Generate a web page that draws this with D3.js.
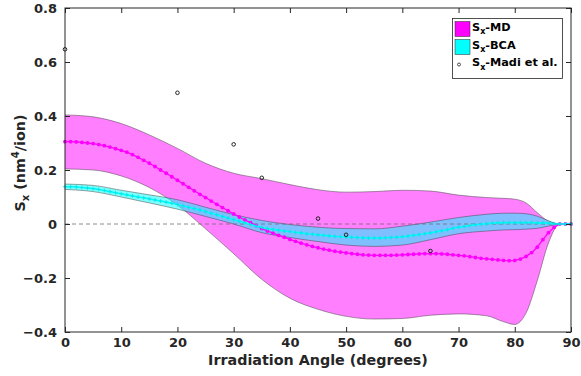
<!DOCTYPE html>
<html><head><meta charset="utf-8">
<script src="https://cdn.jsdelivr.net/npm/d3@7"></script>
<style>body{margin:0;background:#fff;}svg{display:block;font-family:"DejaVu Sans",sans-serif;font-weight:bold;}</style>
</head><body><svg id="c" width="581" height="376"></svg>
<script>
// Mean curves sampled at every degree 0..90
const angles = d3.range(0, 91);
const mdMean = [0.305,0.305,0.304,0.302,0.300,0.298,0.294,0.290,0.285,0.279,0.273,0.266,0.257,0.247,0.236,0.225,0.213,0.200,0.188,0.175,0.162,0.149,0.136,0.123,0.110,0.098,0.085,0.073,0.061,0.049,0.037,0.026,0.015,0.005,-0.006,-0.017,-0.026,-0.034,-0.042,-0.049,-0.057,-0.064,-0.071,-0.077,-0.083,-0.088,-0.093,-0.097,-0.101,-0.104,-0.107,-0.110,-0.112,-0.114,-0.115,-0.116,-0.116,-0.116,-0.116,-0.115,-0.114,-0.113,-0.112,-0.111,-0.110,-0.110,-0.110,-0.111,-0.112,-0.114,-0.116,-0.118,-0.121,-0.124,-0.127,-0.129,-0.131,-0.133,-0.135,-0.136,-0.135,-0.130,-0.120,-0.106,-0.086,-0.058,-0.032,-0.012,0,0,0];
const bcaMean = [0.138,0.138,0.137,0.135,0.133,0.131,0.128,0.124,0.120,0.116,0.112,0.108,0.104,0.100,0.097,0.093,0.089,0.085,0.081,0.077,0.072,0.067,0.062,0.057,0.052,0.046,0.040,0.034,0.028,0.022,0.016,0.010,0.004,-0.002,-0.008,-0.013,-0.017,-0.020,-0.023,-0.026,-0.028,-0.031,-0.033,-0.036,-0.038,-0.040,-0.042,-0.044,-0.046,-0.047,-0.048,-0.049,-0.050,-0.051,-0.052,-0.052,-0.052,-0.051,-0.050,-0.049,-0.047,-0.045,-0.042,-0.039,-0.036,-0.033,-0.029,-0.025,-0.021,-0.016,-0.012,-0.009,-0.006,-0.003,-0.001,0.001,0.003,0.004,0.005,0.005,0.005,0.005,0.005,0.005,0.004,0.004,0.003,0.001,0,0,0];
// Uncertainty bands
const bandAngles = [0,5,10,15,20,25,30,35,40,45,50,55,60,65,70,75,78,80,82,84,86,88,90];
const mdUpper  = [0.404,0.397,0.372,0.330,0.280,0.225,0.188,0.168,0.146,0.127,0.118,0.120,0.125,0.122,0.107,0.098,0.095,0.092,0.078,0.042,0.010,0,0];
const mdLower  = [0.204,0.200,0.178,0.135,0.070,-0.018,-0.110,-0.205,-0.275,-0.316,-0.342,-0.352,-0.350,-0.338,-0.333,-0.340,-0.362,-0.372,-0.330,-0.210,-0.070,0,0];
const bcaUpper = [0.148,0.143,0.125,0.108,0.090,0.062,0.035,0.013,-0.002,-0.012,-0.017,-0.018,-0.008,0.007,0.024,0.036,0.040,0.040,0.038,0.029,0.012,0,0];
const bcaLower = [0.128,0.120,0.100,0.078,0.055,0.028,0.000,-0.032,-0.050,-0.065,-0.078,-0.083,-0.078,-0.058,-0.036,-0.026,-0.022,-0.021,-0.019,-0.016,-0.008,0,0];
// Madi et al. reference points
const madiAngles = [0,20,30,35,45,50,65];
const madiValues = [0.647,0.486,0.295,0.171,0.020,-0.040,-0.100];
const xTicks = [0,10,20,30,40,50,60,70,80,90];
const yTicks = [-0.4,-0.2,0,0.2,0.4,0.6,0.8];

const svg = d3.select("#c");
const L = 65, R = 571, T = 8, B = 332;
const x = d3.scaleLinear().domain([0, 90]).range([L, R]);
const y = d3.scaleLinear().domain([-0.4, 0.8]).range([B, T]);
const ink = "#262626";

const g = svg.append("g");
function band(up, lo, fill) {
  const pts = bandAngles.map((a, i) => ({a, u: up[i], l: lo[i]}));
  g.append("path").datum(pts)
    .attr("d", d3.area().x(d => x(d.a)).y0(d => y(d.l)).y1(d => y(d.u)).curve(d3.curveMonotoneX))
    .attr("fill", fill).attr("stroke", "none");
  [up, lo].forEach(arr => {
    g.append("path").datum(pts)
      .attr("d", d3.line().x(d => x(d.a)).y((d, i) => y(arr[i])).curve(d3.curveMonotoneX))
      .attr("fill", "none").attr("stroke", "rgba(60,60,60,0.6)").attr("stroke-width", 0.8);
  });
}
band(mdUpper, mdLower, "rgba(255,0,255,0.5)");
band(bcaUpper, bcaLower, "rgba(0,255,255,0.5)");

// zero dashed line
g.append("line").attr("x1", x(0)).attr("x2", x(90)).attr("y1", y(0)).attr("y2", y(0))
  .attr("stroke", "#6e6e6e").attr("stroke-width", 0.8).attr("stroke-dasharray", "4,3");

// MD mean line + dots
g.append("path").datum(angles)
  .attr("d", d3.line().x(a => x(a)).y((a, i) => y(mdMean[i])))
  .attr("fill", "none").attr("stroke", "#ff00ff").attr("stroke-width", 1.3);
g.selectAll(".mdpt").data(angles).join("circle")
  .attr("cx", a => x(a)).attr("cy", (a, i) => y(mdMean[i])).attr("r", 1.9).attr("fill", "#ff00ff");

// BCA mean line + plus markers
g.append("path").datum(angles)
  .attr("d", d3.line().x(a => x(a)).y((a, i) => y(bcaMean[i])))
  .attr("fill", "none").attr("stroke", "#00ffff").attr("stroke-width", 1.6);
g.selectAll(".bcapt").data(angles).join("path")
  .attr("d", (a, i) => { const cx = x(a), cy = y(bcaMean[i]); return `M${cx-2},${cy}H${cx+2}M${cx},${cy-2}V${cy+2}`; })
  .attr("stroke", "#00e5e5").attr("stroke-width", 0.9);

// Madi points
g.selectAll(".madi").data(madiAngles).join("circle")
  .attr("cx", a => x(a)).attr("cy", (a, i) => y(madiValues[i])).attr("r", 1.8)
  .attr("fill", "none").attr("stroke", "#222").attr("stroke-width", 1);

// Axes box
svg.append("rect").attr("x", L).attr("y", T).attr("width", R - L).attr("height", B - T)
  .attr("fill", "none").attr("stroke", ink).attr("stroke-width", 1);

const axB = svg.append("g").attr("transform", `translate(0,${B})`)
  .call(d3.axisBottom(x).tickValues(xTicks).tickSize(-5).tickPadding(6).tickFormat(d3.format("d")));
const axT = svg.append("g").attr("transform", `translate(0,${T})`)
  .call(d3.axisTop(x).tickValues(xTicks).tickSize(-5).tickFormat(""));
const axL = svg.append("g").attr("transform", `translate(${L},0)`)
  .call(d3.axisLeft(y).tickValues(yTicks).tickSize(-5).tickPadding(8).tickFormat(d => d === 0 ? "0" : d3.format(".1f")(d)));
const axR = svg.append("g").attr("transform", `translate(${R},0)`)
  .call(d3.axisRight(y).tickValues(yTicks).tickSize(-5).tickFormat(""));
[axB, axT, axL, axR].forEach(a => {
  a.select(".domain").remove();
  a.selectAll("line").attr("stroke", ink);
  a.selectAll("text").attr("fill", ink).style("font-size", "13px").style("font-weight", "bold")
    .style("font-family", "'DejaVu Sans',sans-serif");
});

// Axis labels
svg.append("text").attr("x", (L + R) / 2).attr("y", 365).attr("text-anchor", "middle")
  .attr("fill", ink).style("font-size", "14.3px").text("Irradiation Angle (degrees)");
const yl = svg.append("text").attr("transform", "translate(25,163) rotate(-90)")
  .attr("text-anchor", "middle").attr("fill", ink).style("font-size", "14.3px");
yl.append("tspan").text("S");
yl.append("tspan").attr("dy", 4).style("font-size", "10px").text("x");
yl.append("tspan").attr("dy", -4).text(" (nm");
yl.append("tspan").attr("dy", -6).style("font-size", "10px").text("4");
yl.append("tspan").attr("dy", 6).text("/ion)");

// Legend
const lg = svg.append("g");
lg.append("rect").attr("x", 452.5).attr("y", 18.5).attr("width", 110).attr("height", 60)
  .attr("fill", "#fff").attr("stroke", ink).attr("stroke-width", 0.8);
const legItems = [
  {label: "-MD", type: "sq", color: "#ff00ff", cy: 29},
  {label: "-BCA", type: "sq", color: "#00ffff", cy: 47},
  {label: "-Madi et al.", type: "pt", color: "#222", cy: 64.5}
];
legItems.forEach(it => {
  if (it.type === "sq") {
    lg.append("rect").attr("x", 455).attr("y", it.cy - 7.5).attr("width", 15).attr("height", 15)
      .attr("fill", it.color).attr("stroke", ink).attr("stroke-width", 0.5);
  } else {
    lg.append("circle").attr("cx", 459).attr("cy", it.cy).attr("r", 1.5)
      .attr("fill", "none").attr("stroke", it.color).attr("stroke-width", 0.8);
  }
  const t = lg.append("text").attr("x", 472).attr("y", it.cy + 1.5).attr("fill", "#000").style("font-size", "11.3px");
  t.append("tspan").text("S");
  t.append("tspan").attr("dy", 3.5).style("font-size", "8px").text("x");
  t.append("tspan").attr("dy", -3.5).text(it.label);
});
</script></body></html>
